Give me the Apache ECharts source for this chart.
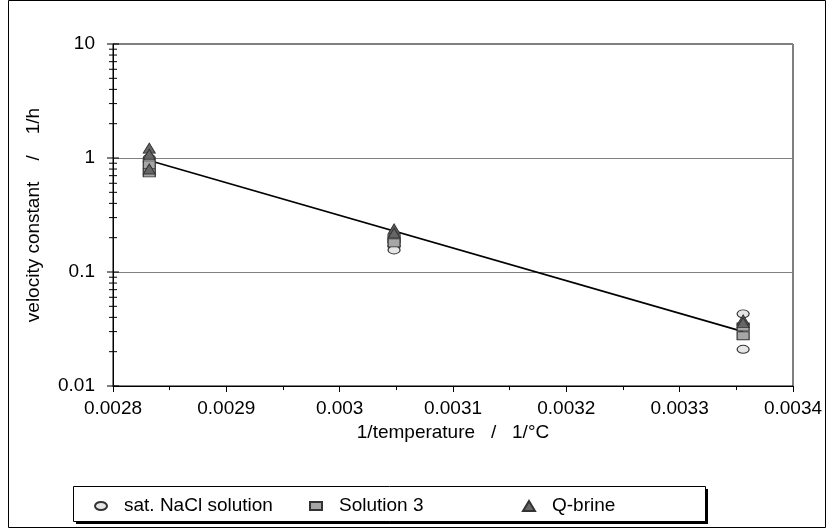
<!DOCTYPE html>
<html>
<head>
<meta charset="utf-8">
<script src="https://cdn.jsdelivr.net/npm/echarts@6/dist/echarts.min.js"></script>
<style>
  html, body { margin: 0; padding: 0; background: #fff; }
  #chart { width: 828px; height: 529px; }
</style>
</head>
<body>
<div id="chart"></div>
<script>
// Reaction velocity constants vs. inverse temperature, three brines
const naclX = [0.002832, 0.002832, 0.003048, 0.003048, 0.003356, 0.003356];
const naclY = [1.00, 0.93, 0.169, 0.156, 0.043, 0.021];

const sol3X = [0.002832, 0.002832, 0.003048, 0.003048, 0.003356, 0.003356];
const sol3Y = [0.87, 0.74, 0.195, 0.180, 0.033, 0.0276];

const qbrineX = [0.002832, 0.002832, 0.002832, 0.003048, 0.003048, 0.003356, 0.003356];
const qbrineY = [1.22, 1.08, 0.80, 0.238, 0.220, 0.038, 0.036];

// Exponential (Arrhenius-type) fit, end points over the data range
const fitX = [0.002832, 0.003356];
const fitY = [0.95, 0.030];

const xTicks = [0.0028, 0.0029, 0.003, 0.0031, 0.0032, 0.0033, 0.0034];
const yMajorTicks = [0.01, 0.1, 1, 10];
const yMinorTicks = [
  0.02, 0.03, 0.04, 0.05, 0.06, 0.07, 0.08, 0.09,
  0.2, 0.3, 0.4, 0.5, 0.6, 0.7, 0.8, 0.9,
  2, 3, 4, 5, 6, 7, 8, 9
];

const seriesNames = ['sat. NaCl solution', 'Solution 3', 'Q-brine'];

const pair = (xs, ys) => xs.map((x, i) => [x, ys[i]]);
const FONT = '"Liberation Sans", Arial, sans-serif';
const FS = 19;
// flat ellipse used as the legend key of the circle series
const ELLIPSE = 'path://M0,4 A6,4 0 1 1 12,4 A6,4 0 1 1 0,4 Z';

// Log-axis ticks crossing the axis line, placed through the axis scale
function tickSeries(values, half) {
  return {
    type: 'custom',
    silent: true,
    clip: false,
    z: 5,
    data: values.map(v => [xTicks[0], v]),
    renderItem: function (params, api) {
      const p = api.coord([api.value(0), api.value(1)]);
      return {
        type: 'line',
        shape: { x1: p[0] - half, y1: p[1], x2: p[0] + half, y2: p[1] },
        style: { stroke: '#000', lineWidth: 1 }
      };
    }
  };
}

function legendAt(left, name, icon, w, h) {
  return {
    left: left, top: 491,
    itemWidth: w, itemHeight: h,
    symbolKeepAspect: false,
    selectedMode: false,
    data: [{ name: name, icon: icon }],
    textStyle: { fontFamily: FONT, fontSize: FS, lineHeight: 20, color: '#000', padding: [0, 0, 0, 12] }
  };
}

const chart = echarts.init(document.getElementById('chart'), null, { renderer: 'canvas' });

chart.setOption({
  animation: false,
  backgroundColor: '#fff',
  textStyle: { fontFamily: FONT },
  graphic: [
    {
      type: 'rect', silent: true, z: -10,
      shape: { x: 8.5, y: 0.5, width: 817, height: 527 },
      style: { fill: 'none', stroke: '#000', lineWidth: 1 }
    },
    {
      type: 'rect', silent: true, z: -5,
      shape: { x: 76, y: 489, width: 632, height: 35 },
      style: { fill: '#000' }
    },
    {
      type: 'rect', silent: true, z: -4,
      shape: { x: 73.5, y: 486.5, width: 632, height: 35 },
      style: { fill: '#fff', stroke: '#000', lineWidth: 1 }
    }
  ],
  legend: [
    legendAt(89, seriesNames[0], ELLIPSE, 12, 8),
    legendAt(304, seriesNames[1], 'rect', 12, 8),
    legendAt(517, seriesNames[2], 'triangle', 12, 10)
  ],
  grid: {
    left: 113, right: 35, top: 44, bottom: 143,
    show: true, borderColor: '#000', borderWidth: 1, backgroundColor: '#fff'
  },
  xAxis: {
    type: 'value',
    min: xTicks[0], max: xTicks[xTicks.length - 1], interval: 0.0001,
    name: '1/temperature   /   1/°C',
    nameLocation: 'middle', nameGap: 37,
    nameTextStyle: { fontFamily: FONT, fontSize: FS, color: '#000' },
    axisLine: { show: true, lineStyle: { color: '#000', width: 1 } },
    axisTick: { show: true, length: 6, lineStyle: { color: '#000' } },
    minorTick: { show: true, splitNumber: 2, length: 4, lineStyle: { color: '#000' } },
    splitLine: { show: false },
    axisLabel: {
      fontFamily: FONT, fontSize: FS, color: '#000', margin: 13,
      formatter: v => String(parseFloat(v.toFixed(6)))
    }
  },
  yAxis: {
    type: 'log', logBase: 10,
    min: yMajorTicks[0], max: yMajorTicks[yMajorTicks.length - 1],
    name: 'velocity constant    /    1/h',
    nameLocation: 'middle', nameGap: 70,
    nameTextStyle: { fontFamily: FONT, fontSize: FS, color: '#000' },
    axisLine: { show: true, lineStyle: { color: '#000', width: 1 } },
    axisTick: { show: false },
    splitLine: { show: true, lineStyle: { color: '#808080', width: 1 } },
    axisLabel: {
      fontFamily: FONT, fontSize: FS, color: '#000', margin: 18,
      formatter: v => String(parseFloat(v.toPrecision(6)))
    }
  },
  series: [
    {
      name: 'fit', type: 'line', data: pair(fitX, fitY),
      symbol: 'none', z: 2,
      lineStyle: { color: '#000', width: 1.6 }
    },
    {
      name: seriesNames[0], type: 'scatter', data: pair(naclX, naclY),
      symbol: 'circle', symbolSize: [12, 8], z: 3,
      itemStyle: { color: '#e6e6e6', borderColor: '#333', borderWidth: 1, opacity: 1 }
    },
    {
      name: seriesNames[1], type: 'scatter', data: pair(sol3X, sol3Y),
      symbol: 'rect', symbolSize: [12, 8], z: 4,
      itemStyle: { color: '#a6a6a6', borderColor: '#333', borderWidth: 1, opacity: 1 }
    },
    {
      name: seriesNames[2], type: 'scatter', data: pair(qbrineX, qbrineY),
      symbol: 'triangle', symbolSize: [12, 10], z: 5,
      itemStyle: { color: '#666666', borderColor: '#333', borderWidth: 1, opacity: 1 }
    },
    tickSeries(yMajorTicks, 6),
    tickSeries(yMinorTicks, 4)
  ]
});
</script>
</body>
</html>
